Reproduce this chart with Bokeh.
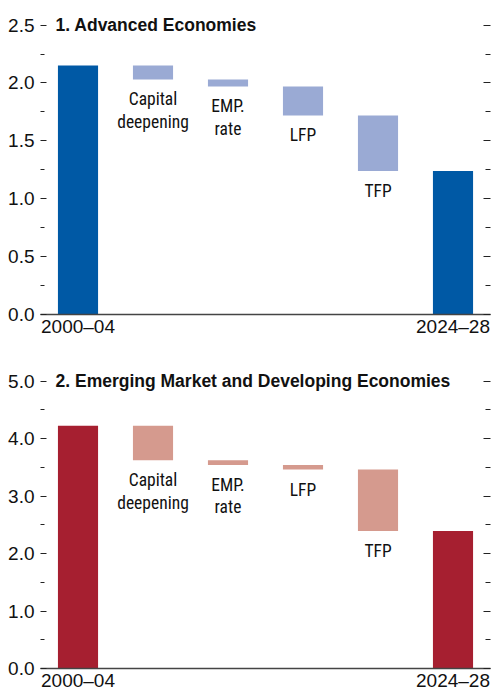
from bokeh.plotting import figure
from bokeh.models import ColumnDataSource, FixedTicker, LinearAxis, Label, Range1d, NumeralTickFormatter
from bokeh.layouts import column
from bokeh.embed import file_html
from bokeh.resources import INLINE
from bokeh.core.properties import value

# ---- data ----
steps = ["2000–04", "Capital\ndeepening", "EMP.\nrate", "LFP", "TFP", "2024–28"]
x_tick_labels = {0: "2000–04", 5: "2024–28"}

ae_title = "1. Advanced Economies"
ae_start = 2.15
ae_contrib = [-0.12, -0.06, -0.25, -0.48]
ae_end = 1.24
ae_ticks = [0.0, 0.5, 1.0, 1.5, 2.0, 2.5]
ae_minor = [0.25, 0.75, 1.25, 1.75, 2.25]

emde_title = "2. Emerging Market and Developing Economies"
emde_start = 4.22
emde_contrib = [-0.60, -0.08, -0.08, -1.07]
emde_end = 2.39
emde_ticks = [0.0, 1.0, 2.0, 3.0, 4.0, 5.0]
emde_minor = [0.5, 1.5, 2.5, 3.5, 4.5]

AE_DARK, AE_LIGHT = "#0059A5", "#9AAAD4"
EM_DARK, EM_LIGHT = "#A61F30", "#D59A8E"

NARROW = "Liberation Sans Narrow, Arial Narrow, Roboto Condensed, DejaVu Sans Condensed, Liberation Sans"
REG = "Liberation Sans"


def panel(title, start, contrib, end, ticks, minor, dark, light, height, top_b, bot_b):
    ymax = ticks[-1]
    p = figure(width=492, height=height, x_range=Range1d(-0.5, 5.5), y_range=Range1d(0, ymax * 1.04),
               output_backend="svg", toolbar_location=None,
               min_border_left=40, min_border_right=2, min_border_top=top_b, min_border_bottom=bot_b)
    p.outline_line_color = None
    p.grid.visible = False

    # waterfall geometry from data
    xs, tops, bots, cols = [0], [start], [0], [dark]
    run = start
    lab_x, lab_y, lab_t = [], [], []
    for i, c in enumerate(contrib):
        nxt = run + c
        xs.append(i + 1)
        tops.append(max(run, nxt))
        bots.append(min(run, nxt))
        cols.append(light)
        lab_x.append(i + 1)
        lab_y.append(min(run, nxt))
        lab_t.append(steps[i + 1])
        run = nxt
    xs.append(5)
    tops.append(end)
    bots.append(0)
    cols.append(dark)

    src = ColumnDataSource(dict(x=xs, top=tops, bottom=bots, color=cols))
    p.vbar(x="x", top="top", bottom="bottom", width=0.535, fill_color="color", line_color=None, source=src)

    lsrc = ColumnDataSource(dict(x=lab_x, y=lab_y, text=lab_t))
    p.text(x="x", y="y", text="text", source=lsrc, text_align="center", text_baseline="top",
           y_offset=10, text_font=value(NARROW), text_font_size="17.5px", text_color="#111",
           text_line_height=1.12)

    p.add_layout(Label(x=-0.3, y=ymax, text=title, text_baseline="middle", text_align="left",
                       text_font=REG, text_font_style="bold", text_font_size="17.5px", text_color="#111"))

    # x axis
    xa = p.xaxis[0]
    xa.ticker = FixedTicker(ticks=list(x_tick_labels.keys()))
    xa.major_label_overrides = x_tick_labels
    xa.major_tick_line_color = None
    xa.minor_tick_line_color = None
    xa.major_tick_in = 0
    xa.major_tick_out = 0
    xa.axis_line_color = "#444444"
    xa.axis_line_width = 1.5
    xa.major_label_standoff = 1
    xa.major_label_text_font = REG
    xa.major_label_text_font_size = "19px"
    xa.major_label_text_color = "#111"

    # left y axis
    ya = p.yaxis[0]
    ya.ticker = FixedTicker(ticks=ticks, minor_ticks=minor)
    ya.formatter = NumeralTickFormatter(format="0.0")
    ya.axis_line_color = None
    ya.major_tick_in = 6
    ya.major_tick_out = 0
    ya.minor_tick_in = 4
    ya.minor_tick_out = 0
    ya.major_tick_line_color = "#222"
    ya.minor_tick_line_color = "#222"
    ya.major_label_standoff = 6
    ya.major_label_text_font = REG
    ya.major_label_text_font_size = "19px"
    ya.major_label_text_color = "#111"

    # right y axis (ticks only)
    ra = LinearAxis(ticker=FixedTicker(ticks=ticks, minor_ticks=minor))
    ra.axis_line_color = None
    ra.major_tick_in = 7
    ra.major_tick_out = 0
    ra.minor_tick_in = 5
    ra.minor_tick_out = 0
    ra.major_tick_line_color = "#222"
    ra.minor_tick_line_color = "#222"
    ra.major_label_text_font_size = "1px"
    ra.major_label_text_color = None
    ra.major_label_standoff = 0
    p.add_layout(ra, "right")
    return p


p1 = panel(ae_title, ae_start, ae_contrib, ae_end, ae_ticks, ae_minor, AE_DARK, AE_LIGHT, 344, 13, 30)
p2 = panel(emde_title, emde_start, emde_contrib, emde_end, emde_ticks, emde_minor, EM_DARK, EM_LIGHT, 350, 25, 26)

layout = column(p1, p2, spacing=0)
open("out.html", "w").write(file_html(layout, INLINE))
